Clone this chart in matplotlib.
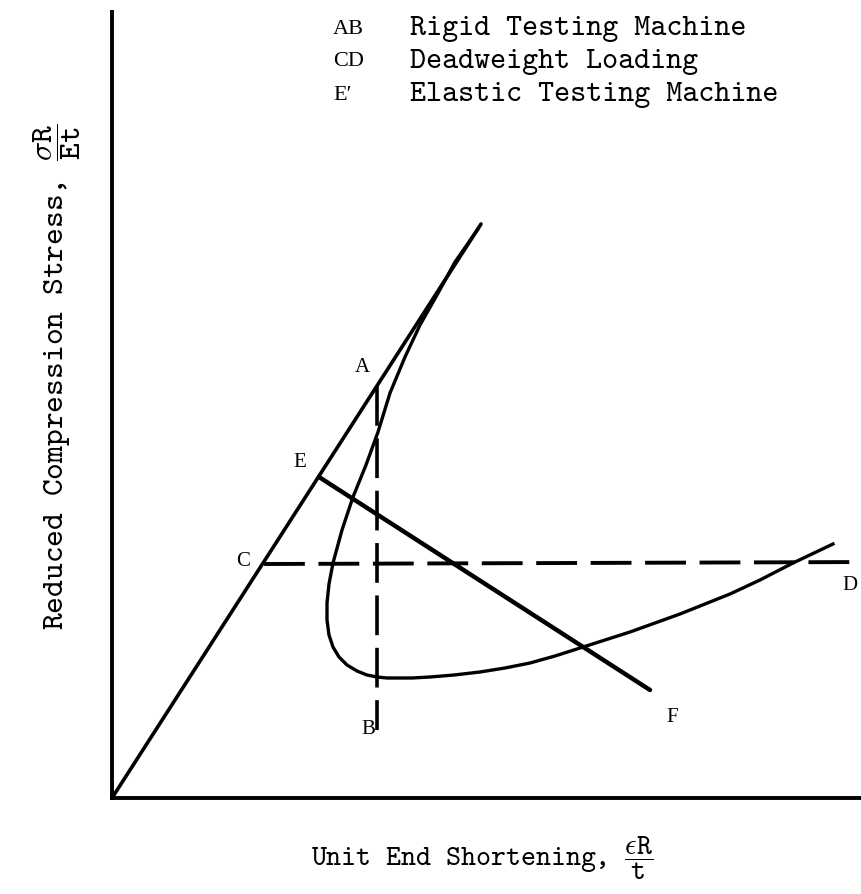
import matplotlib
matplotlib.use("Agg")
import matplotlib.pyplot as plt

plt.rcParams['font.family'] = ['cmtt10', 'DejaVu Sans Mono']
plt.rcParams['mathtext.fontset'] = 'cm'
plt.rcParams['axes.unicode_minus'] = False

# reduced end shortening / reduced stress (arbitrary units)
curve_x = [3.66, 3.43, 3.25, 3.08, 2.93, 2.78, 2.66, 2.54, 2.41, 2.30, 2.21, 2.17,
           2.15, 2.15, 2.17, 2.21, 2.27, 2.35, 2.45, 2.55, 2.65, 2.75, 2.86, 3.00,
           3.18, 3.42, 3.68, 3.93, 4.18, 4.43, 4.68, 4.93, 5.18, 5.43, 5.68, 5.93,
           6.18, 6.48, 6.81, 7.21]
curve_y = [5.69, 5.36, 5.03, 4.73, 4.41, 4.05, 3.66, 3.33, 3.01, 2.68, 2.35, 2.14,
           1.95, 1.78, 1.63, 1.51, 1.41, 1.33, 1.27, 1.23, 1.21, 1.20, 1.20, 1.20,
           1.21, 1.23, 1.26, 1.30, 1.35, 1.42, 1.50, 1.58, 1.66, 1.75, 1.84, 1.94,
           2.04, 2.18, 2.35, 2.54]

# straight elastic line from the origin
elastic_x = [0.0, 3.69]
elastic_y = [0.0, 5.74]

# loading paths
ab_x = [2.65, 2.65]
ab_y = [4.12, 0.68]
cd_x = [1.52, 7.60]
cd_y = [2.34, 2.36]
ef_x = [2.07, 5.38]
ef_y = [3.21, 1.08]

point_names = ['A', 'B', 'C', 'D', 'E', 'F']
point_x = [2.50, 2.56, 1.31, 7.38, 1.88, 5.60]
point_y = [4.31, 0.68, 2.36, 2.13, 3.36, 0.80]

legend_keys = ['AB', 'CD', "E\u2032"]
legend_text = ['Rigid Testing Machine', 'Deadweight Loading', 'Elastic Testing Machine']

fig = plt.figure(figsize=(8.61, 8.94), dpi=100)
ax = fig.add_axes([112 / 861, 96 / 894, 749 / 861, 786 / 894])
ax.set_xlim(0, 7.49)
ax.set_ylim(0, 7.86)

ax.plot(elastic_x, elastic_y, color='black', lw=2.6, solid_capstyle='round')
ax.plot(curve_x, curve_y, color='black', lw=2.4, solid_joinstyle='round')
ax.plot(ab_x, ab_y, color='black', lw=2.6, linestyle=(0, (11, 3.5)))
ax.plot(cd_x, cd_y, color='black', lw=2.8, linestyle=(0, (10.5, 3.5)))
ax.plot(ef_x, ef_y, color='black', lw=3.2, solid_capstyle='round')

for name, px, py in zip(point_names, point_x, point_y):
    ax.text(px, py, name, family='Liberation Serif', fontsize=15,
            ha='center', va='center', clip_on=False)

for spine in ['top', 'right']:
    ax.spines[spine].set_visible(False)
for spine in ['left', 'bottom']:
    ax.spines[spine].set_linewidth(2.8)
ax.set_xticks([])
ax.set_yticks([])

# key at the top
for i, (key, label) in enumerate(zip(legend_keys, legend_text)):
    yy = 1 - (29 + 33 * i) / 894
    fig.text(333 / 861, yy, key, family='Liberation Serif', fontsize=16, va='center')
    fig.text(410 / 861, yy, label, fontsize=22, va='center')

fig.text(482 / 861, 1 - 858 / 894,
         r'Unit End Shortening, $\dfrac{\epsilon\mathtt{R}}{\mathtt{t}}$',
         fontsize=20.5, ha='center', va='center')
fig.text(57 / 861, 1 - 377 / 894,
         r'Reduced Compression Stress, $\dfrac{\sigma\mathtt{R}}{\mathtt{Et}}$',
         fontsize=23, ha='center', va='center', rotation=90)

fig.savefig('out.png', dpi=100)
